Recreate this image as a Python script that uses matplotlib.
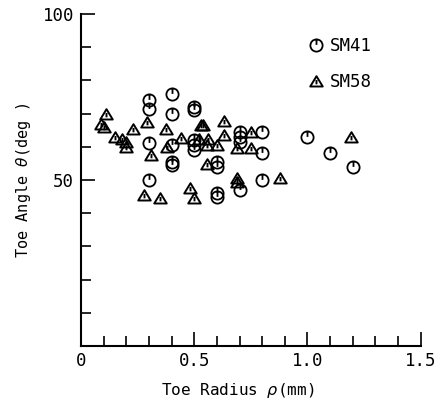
import numpy as np
import matplotlib
matplotlib.use("Agg")
import matplotlib.pyplot as plt
from matplotlib.path import Path
from matplotlib.lines import Line2D

plt.rcParams['font.family'] = ['DejaVu Sans Mono']

# SM41 (circles)
sm41_x = [0.3, 0.3, 0.4, 0.4, 0.5, 0.5, 0.3, 0.4, 0.4, 0.4,
          0.5, 0.5, 0.5, 0.6, 0.6, 0.7, 0.7, 0.7, 0.8, 0.8,
          0.3, 0.6, 0.6, 0.7, 0.8, 1.0, 1.1, 1.2]
sm41_y = [74, 71.5, 76, 70, 72, 71, 61, 60.5, 55.5, 54.5,
          62, 60.5, 59, 55.5, 54, 64.5, 63, 61.5, 64.5, 58,
          50, 46, 45, 47, 50, 63, 58, 54]

# SM58 (triangles)
sm58_x = [0.11, 0.09, 0.1, 0.15, 0.18, 0.2, 0.2, 0.23, 0.29, 0.31,
          0.28, 0.35, 0.375, 0.378, 0.44, 0.48, 0.5, 0.53, 0.54, 0.52,
          0.56, 0.555, 0.6, 0.555, 0.63, 0.63, 0.687, 0.69, 0.69, 0.75,
          0.75, 0.88, 1.19]
sm58_y = [70, 67, 66, 63, 62.5, 61.5, 60, 65.5, 67.5, 57.5,
          45.5, 44.5, 65.5, 60, 62.7, 47.5, 44.5, 66.5, 66.5, 62.5,
          62.5, 60.5, 60.5, 54.8, 67.8, 63.6, 59.7, 50.5, 49.5, 64.5,
          59.7, 50.5, 63]

xticks = [0, 0.5, 1.0, 1.5]
xticklabels = ['0', '0.5', '1.0', '1.5']
yticks = [50, 100]
yticklabels = ['50', '100']

# custom markers: circle with a tick, triangle with a tick
circ = Path.make_compound_path(Path.unit_circle(),
                               Path([(0, 1), (0, 0.1)]))
tri = Path.make_compound_path(
    Path([(-1, -0.8), (1, -0.8), (0, 0.85), (-1, -0.8)], closed=True),
    Path([(0, 0.25), (0, -0.45)]))

fig = plt.figure(figsize=(4.42, 4.04), dpi=100)
ax = fig.add_axes([0.183, 0.1436, 0.769, 0.8217])

ax.plot(sm41_x, sm41_y, linestyle='none', marker=circ, ms=8.8,
        mfc='none', mec='black', mew=1.3)
ax.plot(sm58_x, sm58_y, linestyle='none', marker=tri, ms=9,
        mfc='none', mec='black', mew=1.4)

ax.set_xlim(0, 1.5)
ax.set_ylim(0, 100)
ax.spines['top'].set_visible(False)
ax.spines['right'].set_visible(False)
for s in ['left', 'bottom']:
    ax.spines[s].set_linewidth(1.5)

ax.set_xticks(xticks)
ax.set_xticklabels(xticklabels)
ax.set_xticks(np.arange(0.1, 1.5, 0.1), minor=True)
ax.set_yticks(yticks)
ax.set_yticklabels(yticklabels)
ax.set_yticks(np.arange(10, 100, 10), minor=True)
ax.tick_params(which='major', direction='in', length=10, width=1.2,
               labelsize=12.5, pad=5)
ax.tick_params(which='minor', direction='in', length=7.5, width=1.2)
ax.tick_params(axis='x', which='major', pad=4)

ax.set_xlabel(r'Toe Radius $\rho$(mm)', fontsize=11.5, labelpad=9)
ax.xaxis.set_label_coords(0.462, -0.105)
ax.set_ylabel(r'Toe Angle $\theta$(deg )', fontsize=11, labelpad=7)

handles = [Line2D([], [], linestyle='none', marker=circ, ms=8.8, mfc='none',
                  mec='black', mew=1.3),
           Line2D([], [], linestyle='none', marker=tri, ms=9, mfc='none',
                  mec='black', mew=1.4)]
ax.legend(handles, ['SM41', 'SM58'], loc='upper left',
          bbox_to_anchor=(0.665, 0.93), frameon=False, fontsize=12.5,
          handlelength=1.0, handletextpad=0.3, labelspacing=1.0,
          borderpad=0, borderaxespad=0)

fig.savefig('out.png', dpi=100)
